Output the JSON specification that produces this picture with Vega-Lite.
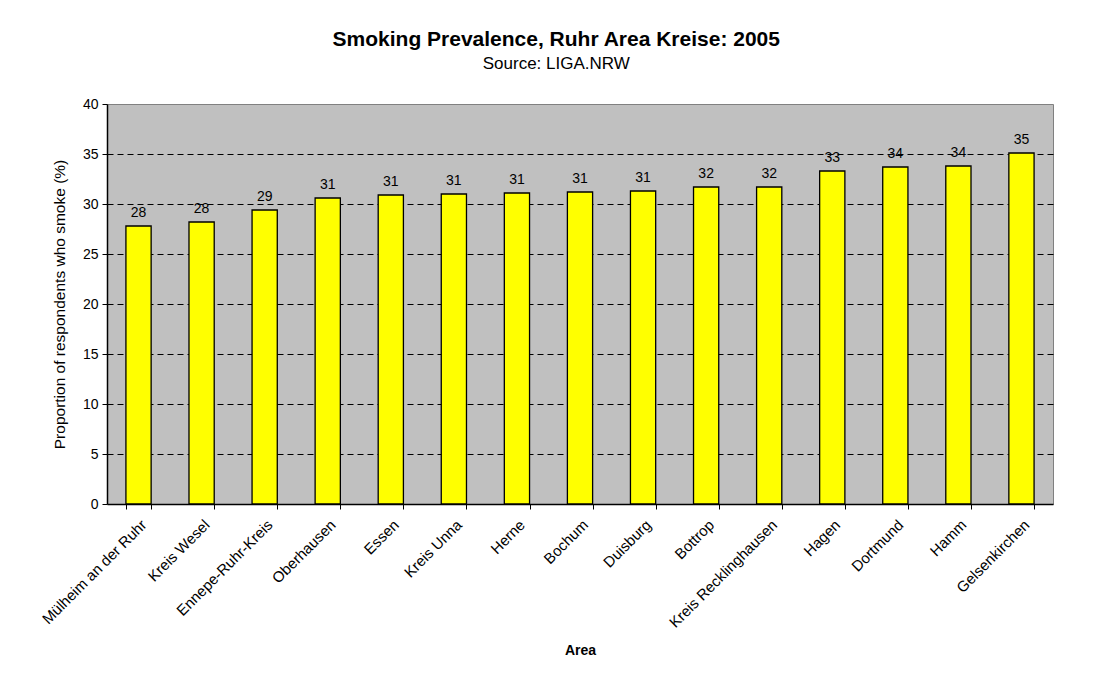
{
  "$schema": "https://vega.github.io/schema/vega-lite/v6.json",
  "width": 946,
  "height": 400,
  "autosize": {"type": "none"},
  "padding": {"left": 107, "top": 104, "right": 43, "bottom": 169},
  "background": "white",
  "config": {
    "font": "Liberation Sans",
    "view": {"fill": "#C0C0C0", "stroke": "#808080", "strokeWidth": 1},
    "axis": {"labelFont": "Liberation Sans", "titleFont": "Liberation Sans", "labelColor": "black", "titleColor": "black", "domainColor": "black", "tickColor": "black"}
  },
  "title": {
    "text": "Smoking Prevalence, Ruhr Area Kreise: 2005",
    "subtitle": "Source: LIGA.NRW",
    "fontSize": 21,
    "fontWeight": "bold",
    "subtitleFontSize": 17,
    "subtitleColor": "black",
    "color": "black",
    "anchor": "middle",
    "frame": "bounds",
    "dx": 10,
    "offset": 25,
    "subtitlePadding": 6
  },
  "data": {
    "values": [
      {"area": "Mülheim an der Ruhr", "value": 27.8},
      {"area": "Kreis Wesel", "value": 28.2},
      {"area": "Ennepe-Ruhr-Kreis", "value": 29.4},
      {"area": "Oberhausen", "value": 30.6},
      {"area": "Essen", "value": 30.9},
      {"area": "Kreis Unna", "value": 31.0},
      {"area": "Herne", "value": 31.1},
      {"area": "Bochum", "value": 31.2},
      {"area": "Duisburg", "value": 31.3},
      {"area": "Bottrop", "value": 31.7},
      {"area": "Kreis Recklinghausen", "value": 31.7},
      {"area": "Hagen", "value": 33.3},
      {"area": "Dortmund", "value": 33.7},
      {"area": "Hamm", "value": 33.8},
      {"area": "Gelsenkirchen", "value": 35.1}
    ]
  },
  "encoding": {
    "x": {
      "field": "area",
      "type": "nominal",
      "sort": null,
      "scale": {"paddingInner": 0.6, "paddingOuter": 0.3},
      "axis": {
        "title": "Area",
        "titleFontSize": 14,
        "titleFontWeight": "bold",
        "titlePadding": 13,
        "labelAngle": -45,
        "labelFontSize": 15,
        "labelPadding": 8,
        "tickBand": "extent",
        "tickSize": 5,
        "domainWidth": 1.5,
        "labelOverlap": false
      }
    },
    "y": {
      "field": "value",
      "type": "quantitative",
      "scale": {"domain": [0, 40], "nice": false},
      "axis": {
        "title": "Proportion of respondents who smoke (%)",
        "titleFontSize": 15.5,
        "titleFontWeight": "normal",
        "titlePadding": 15,
        "values": [0, 5, 10, 15, 20, 25, 30, 35, 40],
        "labelFontSize": 14,
        "labelPadding": 4,
        "tickSize": 5,
        "domainWidth": 1.5,
        "grid": true,
        "gridColor": "black",
        "gridDash": [6, 4],
        "gridWidth": 1,
        "gridOpacity": {"condition": {"test": "datum.value == 0 || datum.value == 40", "value": 0}, "value": 1}
      }
    }
  },
  "layer": [
    {
      "mark": {"type": "bar", "fill": "#FFFF00", "stroke": "black", "strokeWidth": 1.3}
    },
    {
      "mark": {"type": "text", "baseline": "bottom", "dy": -6, "fontSize": 14, "color": "black"},
      "encoding": {
        "text": {"field": "value", "type": "quantitative", "format": ".0f"}
      }
    }
  ]
}
